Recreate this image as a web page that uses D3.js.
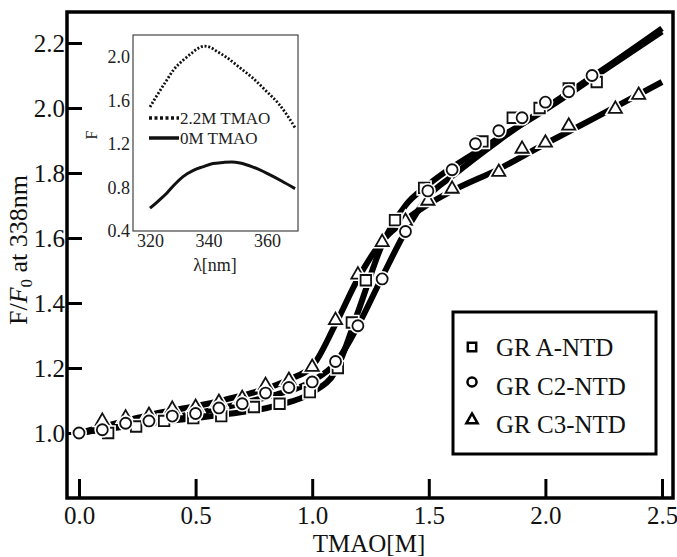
<!DOCTYPE html>
<html>
<head>
<meta charset="utf-8">
<script src="https://cdn.jsdelivr.net/npm/d3@7"></script>
<style>
  html, body { margin: 0; padding: 0; background: #fff; }
  svg { display: block; font-family: "Liberation Serif", "Times New Roman", serif; }
</style>
</head>
<body>
<svg id="chart" width="677" height="557"></svg>
<script>
// ---------------- data ----------------
const seriesNames = ["GR A-NTD", "GR C2-NTD", "GR C3-NTD"];

// GR A-NTD (squares)
const aX = [0.125, 0.245, 0.365, 0.49, 0.61, 0.75, 0.86, 0.99, 1.11, 1.17, 1.23, 1.355, 1.48, 1.73, 1.86, 1.975, 2.1, 2.22];
const aY = [1.00, 1.02, 1.037, 1.046, 1.052, 1.08, 1.09, 1.126, 1.20, 1.34, 1.47, 1.655, 1.754, 1.897, 1.97, 2.0, 2.06, 2.08];
// GR C2-NTD (circles)
const cX = [0.0, 0.1, 0.2, 0.3, 0.4, 0.5, 0.6, 0.7, 0.8, 0.9, 1.0, 1.1, 1.196, 1.3, 1.4, 1.496, 1.6, 1.7, 1.8, 1.9, 2.0, 2.1, 2.2];
const cY = [1.00, 1.01, 1.03, 1.037, 1.052, 1.06, 1.077, 1.09, 1.123, 1.14, 1.157, 1.22, 1.33, 1.474, 1.62, 1.745, 1.81, 1.89, 1.93, 1.97, 2.018, 2.05, 2.10];
// GR C3-NTD (triangles)
const tX = [0.1, 0.2, 0.3, 0.4, 0.5, 0.6, 0.7, 0.8, 0.9, 1.0, 1.1, 1.196, 1.3, 1.4, 1.496, 1.6, 1.8, 1.9, 2.0, 2.1, 2.3, 2.4];
const tY = [1.04, 1.05, 1.058, 1.077, 1.083, 1.098, 1.11, 1.15, 1.166, 1.206, 1.35, 1.49, 1.59, 1.655, 1.717, 1.754, 1.806, 1.877, 1.896, 1.948, 2.0, 2.043];

// fitted curves
const fitAX = [0.0, 0.3, 0.6, 0.85, 1.0, 1.1, 1.2, 1.3, 1.4, 1.5, 1.75, 2.0, 2.25, 2.5];
const fitAY = [1.0, 1.03, 1.055, 1.085, 1.125, 1.19, 1.38, 1.58, 1.70, 1.765, 1.885, 1.995, 2.115, 2.235];
const fitCX = [0.0, 0.3, 0.6, 0.8, 1.0, 1.1, 1.2, 1.3, 1.4, 1.5, 1.6, 1.8, 2.0, 2.25, 2.5];
const fitCY = [1.0, 1.035, 1.075, 1.11, 1.16, 1.215, 1.335, 1.48, 1.62, 1.73, 1.79, 1.90, 2.0, 2.12, 2.245];
const fitTX = [0.0, 0.3, 0.6, 0.9, 1.0, 1.1, 1.2, 1.3, 1.4, 1.5, 1.6, 1.8, 2.0, 2.2, 2.5];
const fitTY = [1.0, 1.055, 1.098, 1.165, 1.205, 1.335, 1.48, 1.59, 1.655, 1.705, 1.745, 1.812, 1.89, 1.965, 2.08];

const xTicks = [0.0, 0.5, 1.0, 1.5, 2.0, 2.5];
const yTicks = [1.0, 1.2, 1.4, 1.6, 1.8, 2.0, 2.2];

// inset spectra
const insetLegend = ["2.2M TMAO", "0M TMAO"];
const specDotX = [320, 322, 325.8, 328, 331.3, 334, 336.5, 338.5, 340.5, 343, 346, 350.8, 355, 360, 364, 367, 369.6];
const specDotY = [1.54, 1.63, 1.79, 1.88, 1.97, 2.03, 2.08, 2.10, 2.09, 2.05, 2.00, 1.90, 1.81, 1.68, 1.57, 1.46, 1.35];
const specSolX = [320, 323, 325.8, 328.5, 331.3, 335, 338, 341.5, 345, 348, 350.8, 355, 360, 365, 369.6];
const specSolY = [0.61, 0.68, 0.75, 0.83, 0.90, 0.96, 0.99, 1.02, 1.03, 1.035, 1.025, 0.99, 0.93, 0.86, 0.79];
const insetXTicks = [320, 340, 360];
const insetYTicks = [0.4, 0.8, 1.2, 1.6, 2.0];

// ---------------- layout ----------------
const svg = d3.select("#chart");
const frame = {l: 67, r: 673, t: 12, b: 498};
const x = d3.scaleLinear().domain([0, 2.5]).range([79, 662]);
const y = d3.scaleLinear().domain([1.0, 2.2]).range([433, 43]);

// axes
const gx = svg.append("g").attr("transform", `translate(0,${frame.b})`)
  .call(d3.axisBottom(x).tickValues(xTicks).tickSize(-19).tickPadding(8).tickFormat(d3.format(".1f")));
const gy = svg.append("g").attr("transform", `translate(${frame.l},0)`)
  .call(d3.axisLeft(y).tickValues(yTicks).tickSize(-15).tickPadding(2).tickFormat(d3.format(".1f")));
[gx, gy].forEach(g => {
  g.select(".domain").remove();
  g.selectAll(".tick line").attr("stroke", "#000").attr("stroke-width", 3);
  g.selectAll(".tick text").attr("fill", "#111").style("font-size", "25px")
    .style("font-family", "'Liberation Serif', serif");
});

// frame
svg.append("rect").attr("x", frame.l).attr("y", frame.t)
  .attr("width", frame.r - frame.l).attr("height", frame.b - frame.t)
  .attr("fill", "none").attr("stroke", "#000").attr("stroke-width", 3.5);

// fit lines
const line = d3.line().x(d => x(d[0])).y(d => y(d[1])).curve(d3.curveMonotoneX);
const fits = [[fitAX, fitAY], [fitCX, fitCY], [fitTX, fitTY]];
fits.forEach(([fx, fy]) => {
  svg.append("path").datum(fx.map((v, i) => [v, fy[i]]))
    .attr("d", line).attr("fill", "none").attr("stroke", "#000")
    .attr("stroke-width", 6).attr("stroke-linejoin", "round");
});

// markers
const symSquare = d3.symbol().type(d3.symbolSquare).size(110);
const symCircle = d3.symbol().type(d3.symbolCircle).size(95);
const symTri = d3.symbol().type(d3.symbolTriangle).size(75);
const markerSets = [
  {xs: tX, ys: tY, sym: symTri, dy: 1},
  {xs: aX, ys: aY, sym: symSquare, dy: 0},
  {xs: cX, ys: cY, sym: symCircle, dy: 0}
];
markerSets.forEach(ms => {
  const pts = ms.xs.map((v, i) => [v, ms.ys[i]]);
  const g = svg.append("g");
  g.selectAll("path.halo").data(pts).join("path").attr("class", "halo")
    .attr("transform", d => `translate(${x(d[0])},${y(d[1]) + ms.dy})`)
    .attr("d", ms.sym()).attr("fill", "#fff").attr("stroke", "#fff").attr("stroke-width", 5);
  g.selectAll("path.mk").data(pts).join("path").attr("class", "mk")
    .attr("transform", d => `translate(${x(d[0])},${y(d[1]) + ms.dy})`)
    .attr("d", ms.sym()).attr("fill", "#fff").attr("stroke", "#111").attr("stroke-width", 1.8);
});

// axis titles
svg.append("text").attr("x", 369).attr("y", 552).attr("text-anchor", "middle")
  .style("font-size", "25px").attr("fill", "#111").text("TMAO[M]");
const yl = svg.append("text").attr("transform", "translate(27,250) rotate(-90)")
  .attr("text-anchor", "middle").style("font-size", "26px").attr("fill", "#111");
yl.append("tspan").text("F/");
yl.append("tspan").style("font-style", "italic").text("F");
yl.append("tspan").attr("dy", 5).style("font-size", "17px").text("0");
yl.append("tspan").attr("dy", -5).text(" at 338nm");

// legend
const lg = svg.append("g");
lg.append("rect").attr("x", 453).attr("y", 312).attr("width", 203).attr("height", 142)
  .attr("fill", "#fff").attr("stroke", "#000").attr("stroke-width", 3);
const legSyms = [
  d3.symbol().type(d3.symbolSquare).size(70),
  d3.symbol().type(d3.symbolCircle).size(65),
  d3.symbol().type(d3.symbolTriangle).size(55)
];
const legY = [347, 386, 424];
seriesNames.forEach((n, i) => {
  lg.append("path").attr("transform", `translate(472,${legY[i] - (i === 0 ? 0 : 4)})`)
    .attr("d", legSyms[i]()).attr("fill", "#fff").attr("stroke", "#000").attr("stroke-width", 2.5);
  lg.append("text").attr("x", 496).attr("y", legY[i]).attr("dy", "0.35em")
    .style("font-size", "25px").attr("fill", "#111").text(n);
});

// ---------------- inset ----------------
const ins = svg.append("g");
const xi = d3.scaleLinear().domain([320, 360]).range([150, 267]);
const yi = d3.scaleLinear().domain([0.4, 2.0]).range([231, 57]);
ins.append("rect").attr("x", 133).attr("y", 35).attr("width", 165).attr("height", 196)
  .attr("fill", "#fff").attr("stroke", "#444").attr("stroke-width", 1.2);
const gxi = ins.append("g").attr("transform", "translate(0,231)")
  .call(d3.axisBottom(xi).tickValues(insetXTicks).tickSize(0).tickPadding(3).tickFormat(d3.format("d")));
const gyi = ins.append("g").attr("transform", "translate(133,0)")
  .call(d3.axisLeft(yi).tickValues(insetYTicks).tickSize(0).tickPadding(3).tickFormat(d3.format(".1f")));
[gxi, gyi].forEach(g => {
  g.select(".domain").remove();
  g.selectAll(".tick text").attr("fill", "#222").style("font-size", "18px")
    .style("font-family", "'Liberation Serif', serif");
});
const iline = d3.line().x(d => xi(d[0])).y(d => yi(d[1])).curve(d3.curveMonotoneX);
ins.append("path").datum(specDotX.map((v, i) => [v, specDotY[i]])).attr("d", iline)
  .attr("fill", "none").attr("stroke", "#111").attr("stroke-width", 2.8).attr("stroke-dasharray", "2,1.8");
ins.append("path").datum(specSolX.map((v, i) => [v, specSolY[i]])).attr("d", iline)
  .attr("fill", "none").attr("stroke", "#111").attr("stroke-width", 3);
// inset legend
ins.append("line").attr("x1", 149).attr("x2", 179).attr("y1", 118).attr("y2", 118)
  .attr("stroke", "#111").attr("stroke-width", 3.5).attr("stroke-dasharray", "3,2.5");
ins.append("line").attr("x1", 149).attr("x2", 179).attr("y1", 138).attr("y2", 138)
  .attr("stroke", "#111").attr("stroke-width", 3.5);
ins.append("text").attr("x", 180).attr("y", 118).attr("dy", "0.35em")
  .style("font-size", "17px").attr("fill", "#222").text(insetLegend[0]);
ins.append("text").attr("x", 180).attr("y", 138).attr("dy", "0.35em")
  .style("font-size", "17px").attr("fill", "#222").text(insetLegend[1]);
// inset titles
ins.append("text").attr("x", 215).attr("y", 271).attr("text-anchor", "middle")
  .style("font-size", "18px").attr("fill", "#222").text("λ[nm]");
ins.append("text").attr("transform", "translate(97,135) rotate(-90)").attr("text-anchor", "middle")
  .style("font-size", "16px").attr("fill", "#222").text("F");
</script>
</body>
</html>
